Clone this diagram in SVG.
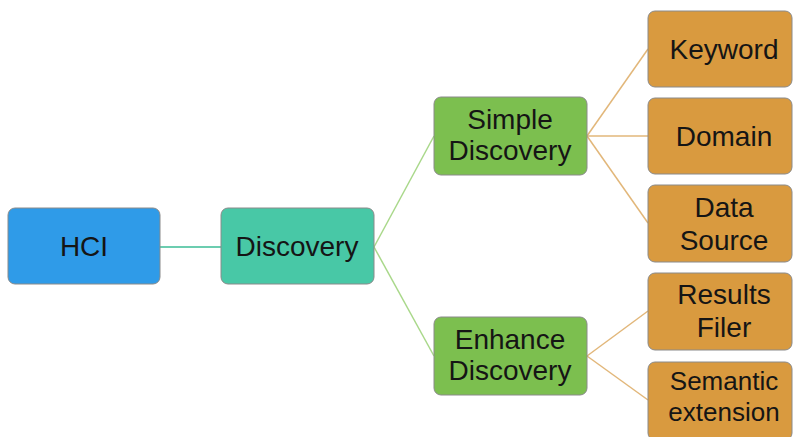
<svg xmlns="http://www.w3.org/2000/svg" width="794" height="437" viewBox="0 0 794 437">
<style>
.box{stroke:#8a8a8a;stroke-width:1}
.hci{fill:#2f9be8}
.disc{fill:#48c8a6}
.grn{fill:#7cbf4f}
.org{fill:#d99a3f}
text{font-family:"Liberation Sans",Arial,sans-serif;font-size:28px;fill:#151515;text-anchor:middle}
.sm{font-size:26px}
.c1{stroke:#6ccdb0;stroke-width:2;fill:none}
.c2{stroke:#a9d88a;stroke-width:1.5;fill:none}
.c3{stroke:#e2b77a;stroke-width:1.5;fill:none}
</style>
<rect width="794" height="437" fill="#ffffff"/>
<g id="connectors">
<line class="c1" x1="160" y1="247" x2="221" y2="247"/>
<line class="c2" x1="374" y1="247" x2="434" y2="136"/>
<line class="c2" x1="374" y1="247" x2="434" y2="356"/>
<line class="c3" x1="587" y1="136" x2="648" y2="49"/>
<line class="c3" x1="587" y1="136" x2="648" y2="136"/>
<line class="c3" x1="587" y1="136" x2="648" y2="223"/>
<line class="c3" x1="587" y1="356" x2="648" y2="311"/>
<line class="c3" x1="587" y1="356" x2="648" y2="400"/>
</g>
<g id="hci"><rect class="box hci" x="8" y="208" width="152" height="76" rx="7"/><text x="84" y="256">HCI</text></g>
<g id="discovery"><rect class="box disc" x="221" y="208" width="153" height="76" rx="7"/><text x="297" y="256">Discovery</text></g>
<g id="simple"><rect class="box grn" x="434" y="97" width="153" height="78" rx="7"/><text x="510" y="129">Simple</text><text x="510" y="160">Discovery</text></g>
<g id="enhance"><rect class="box grn" x="434" y="317" width="153" height="78" rx="7"/><text x="510" y="349">Enhance</text><text x="510" y="380">Discovery</text></g>
<g id="keyword"><rect class="box org" x="648" y="11" width="144" height="76" rx="7"/><text x="724" y="59">Keyword</text></g>
<g id="domain"><rect class="box org" x="648" y="98" width="144" height="76" rx="7"/><text x="724" y="146">Domain</text></g>
<g id="datasource"><rect class="box org" x="648" y="185" width="144" height="77" rx="7"/><text x="724" y="217">Data</text><text x="724" y="250">Source</text></g>
<g id="results"><rect class="box org" x="648" y="273" width="144" height="77" rx="7"/><text x="724" y="304">Results</text><text x="724" y="337">Filer</text></g>
<g id="semantic"><rect class="box org" x="648" y="362" width="144" height="78" rx="7"/><text class="sm" x="724" y="390">Semantic</text><text class="sm" x="724" y="421">extension</text></g>
</svg>
